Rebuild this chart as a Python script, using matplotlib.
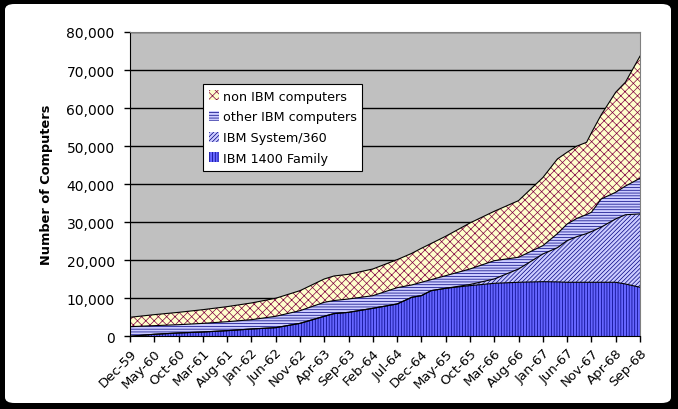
import matplotlib
matplotlib.use("Agg")
import matplotlib.pyplot as plt
from matplotlib.patches import FancyBboxPatch
from matplotlib.ticker import FuncFormatter
import numpy as np


months = [0, 5, 10, 15, 20, 25, 30, 35, 40, 42, 45, 50, 55, 58, 60, 62, 65,
          70, 75, 80, 85, 88, 90, 92, 94, 95, 97, 100, 102, 105]

ibm_1400 = [0, 530, 875, 1130, 1480, 1920, 2270, 3400, 5260, 5970, 6300, 7360,
            8500, 10250, 10690, 12000, 12620, 13320, 13930, 14200, 14360, 14300,
            14200, 14200, 14200, 14200, 14200, 14200, 13750, 12890]
ibm_360 = [0, 0, 0, 0, 0, 0, 0, 0, 0, 0, 0, 0, 0, 0, 0, 0, 0,
           300, 1140, 3500, 7280, 9000, 10960, 12000, 12800, 13330, 14500,
           16660, 18200, 19290]
other_ibm = [2530, 2270, 2175, 2270, 2360, 2450, 2990, 3340, 3680, 3430, 3510,
             3320, 4280, 3250, 3510, 2900, 3320, 4080, 4810, 3080, 2190, 3700,
             4370, 4800, 5000, 5080, 7400, 7010, 7550, 9370]
non_ibm = [2470, 2890, 3250, 3600, 3960, 4390, 4740, 5260, 6130, 6460, 6490,
           7020, 7370, 8300, 8940, 9500, 10360, 12100, 12990, 14890, 17900,
           19630, 18860, 19000, 19000, 20890, 22100, 26300, 27300, 32090]

tick_labels = ["Dec-59", "May-60", "Oct-60", "Mar-61", "Aug-61", "Jan-62",
               "Jun-62", "Nov-62", "Apr-63", "Sep-63", "Feb-64", "Jul-64",
               "Dec-64", "May-65", "Oct-65", "Mar-66", "Aug-66", "Jan-67",
               "Jun-67", "Nov-67", "Apr-68", "Sep-68"]

series = [
    # label, values, fill, hatch, hatch colour
    ("IBM 1400 Family", ibm_1400, "#6666FF", "|" * 6, "#000080"),
    ("IBM System/360", ibm_360, "#CCCCFF", "/" * 8, "#000080"),
    ("other IBM computers", other_ibm, "#CCCCFF", "-" * 6, "#000080"),
    ("non IBM computers", non_ibm, "#FFFFCC", "xxxx", "#800040"),
]

plt.rcParams["font.family"] = ["DejaVu Sans"]
plt.rcParams["hatch.linewidth"] = 0.5

W, H = 678, 410
fig = plt.figure(figsize=(W / 100, H / 100), dpi=100)
fig.patch.set_facecolor("black")

# white rounded panel on black background
panel = FancyBboxPatch((5 / W, 6 / H), 666 / W, 399 / H,
                       boxstyle="round,pad=0,rounding_size=0.014",
                       transform=fig.transFigure, facecolor="white",
                       edgecolor="none", zorder=-5)
fig.patches.append(panel)

ax = fig.add_axes([130 / W, (H - 337.3) / H, 510 / W, 304.3 / H])
ax.set_facecolor("#C0C0C0")

x = np.array(months)
bottom = np.zeros(len(x))
handles = []
for label, vals, fill, hatch, hcol in series:
    top = bottom + np.array(vals)
    poly = ax.fill_between(x, bottom, top, facecolor=fill, edgecolor=hcol,
                           hatch=hatch, linewidth=0, label=label, zorder=2)
    ax.plot(x, top, color="black", linewidth=0.8, zorder=3)
    handles.append(poly)
    bottom = top

ax.set_xlim(0, 105)
ax.set_ylim(0, 80000)
ax.set_yticks(range(0, 80001, 10000))
ax.yaxis.set_major_formatter(FuncFormatter(lambda v, p: f"{int(v):,}"))
ax.set_xticks(range(0, 106, 5))
ax.set_xticklabels(tick_labels, rotation=45, ha="right", rotation_mode="anchor",
                   fontsize=9.5)
ax.tick_params(axis="y", labelsize=10, length=4, width=1, color="black", pad=7)
ax.tick_params(axis="x", length=4, width=1, color="black", pad=3)

ax.grid(axis="y", color="black", linewidth=1, zorder=1)
ax.set_axisbelow(True)

for side in ["top", "right"]:
    ax.spines[side].set_color("#808080")
for side in ["left", "bottom"]:
    ax.spines[side].set_color("black")

ax.set_ylabel("Number of Computers", fontsize=9.3, fontweight="bold", labelpad=10)

leg = ax.legend(handles[::-1], [s[0] for s in series][::-1], loc="upper left",
                bbox_to_anchor=(0.143, 0.829), fontsize=9.2, frameon=True,
                fancybox=False, shadow=False, handlelength=0.8,
                handleheight=0.8, handletextpad=0.3, labelspacing=0.6,
                borderpad=0.45, borderaxespad=0)
leg.get_frame().set_edgecolor("black")
leg.get_frame().set_linewidth(0.8)
leg.get_frame().set_facecolor("white")
leg.get_frame().set_alpha(1)

fig.savefig("out.png", dpi=100, facecolor=fig.get_facecolor())
